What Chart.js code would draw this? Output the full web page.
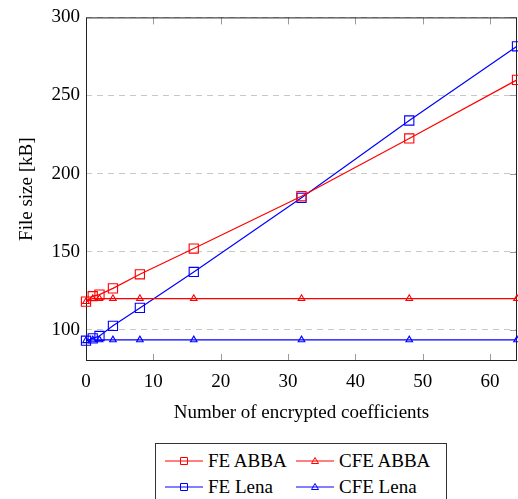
<!DOCTYPE html>
<html>
<head>
<meta charset="utf-8">
<script src="https://cdn.jsdelivr.net/npm/chart.js@4.4.1/dist/chart.umd.min.js"></script>
<style>
html, body { margin: 0; padding: 0; background: #fff; overflow: hidden; }
#wrap { position: relative; width: 518px; height: 499px; }
#chartBox { position: absolute; left: 0; top: 0; width: 518px; height: 430px; }
#legend { position: absolute; left: 155px; top: 443px; width: 290px; height: 70px; border: 1px solid #333;
  font-family: "Liberation Serif", serif; font-size: 19px; color: #000; }
.item { position: absolute; height: 24px; line-height: 24px; white-space: nowrap; }
.item canvas { position: absolute; left: 0; top: 6px; }
.item span { position: absolute; left: 43px; top: 0; }
</style>
</head>
<body>
<div id="wrap">
  <div id="chartBox"><canvas id="sizeChart"></canvas></div>
  <div id="legend"></div>
</div>
<script>
// data
const xValues = [0, 1, 2, 4, 8, 16, 32, 48, 64];
const feAbba  = [118, 121.5, 122.5, 126.5, 135.5, 152, 185.5, 222.5, 260];
const cfeAbba = [118, 120, 120, 120, 120, 120, 120, 120, 120];
const feLena  = [93, 94.5, 96, 102.5, 114, 137, 184.5, 234, 281.5];
const cfeLena = [93, 93.5, 93.5, 93.5, 93.5, 93.5, 93.5, 93.5, 93.5];
const xTicks = [0, 10, 20, 30, 40, 50, 60];
const yTicks = [100, 150, 200, 250, 300];

const RED = '#ff0000';
const BLUE = '#0000ff';
const FONT = '"Liberation Serif", "Times New Roman", serif';

const series = [
    { label: 'FE ABBA',  data: feAbba,  color: RED,  shape: 'rect' },
    { label: 'CFE ABBA', data: cfeAbba, color: RED,  shape: 'triangle' },
    { label: 'FE Lena',  data: feLena,  color: BLUE, shape: 'rect' },
    { label: 'CFE Lena', data: cfeLena, color: BLUE, shape: 'triangle' }
];

const toPoints = (ys) => xValues.map((x, i) => ({ x: x, y: ys[i] }));

// frame + inward tick marks like the pgfplots original
const framePlugin = {
    id: 'frame',
    beforeDatasetsDraw(chart) {
        const { ctx, chartArea: a, scales } = chart;
        ctx.save();
        ctx.strokeStyle = '#9a9a9a';
        ctx.lineWidth = 1;
        ctx.beginPath();
        xTicks.forEach(v => {
            if (v === 0) return;
            const px = Math.round(scales.x.getPixelForValue(v)) + 0.5;
            ctx.moveTo(px, a.bottom); ctx.lineTo(px, a.bottom - 7);
            ctx.moveTo(px, a.top); ctx.lineTo(px, a.top + 7);
        });
        yTicks.forEach(v => {
            const py = Math.round(scales.y.getPixelForValue(v)) + 0.5;
            ctx.moveTo(a.right, py); ctx.lineTo(a.right - 7, py);
        });
        ctx.stroke();
        ctx.strokeStyle = '#222';
        ctx.strokeRect(a.left + 0.5, a.top + 0.5, a.width - 1, a.height - 1);
        ctx.restore();
    }
};

const chart = new Chart(document.getElementById('sizeChart'), {
    type: 'line',
    data: {
        datasets: series.map(s => ({
            label: s.label,
            data: toPoints(s.data),
            borderColor: s.color,
            borderWidth: 1.2,
            pointStyle: s.shape,
            pointRadius: s.shape === 'rect' ? 6.5 : 3.8,
            pointBorderWidth: 1.1,
            pointBorderColor: s.color,
            pointBackgroundColor: 'rgba(255,255,255,0)',
            tension: 0,
            fill: false,
            clip: false
        }))
    },
    options: {
        responsive: true,
        maintainAspectRatio: false,
        animation: false,
        layout: { autoPadding: false, padding: { top: 15, right: 1, left: 0, bottom: 0 } },
        plugins: { legend: { display: false }, tooltip: { enabled: false } },
        scales: {
            x: {
                type: 'linear',
                min: 0,
                max: 64,
                afterBuildTicks: (scale) => { scale.ticks = xTicks.map(v => ({ value: v })); },
                afterFit: (scale) => { scale.height = 69; },
                grid: { display: false, drawTicks: false },
                border: { display: false },
                ticks: { color: '#000', padding: 10, font: { family: FONT, size: 19 }, maxRotation: 0 },
                title: { display: true, text: 'Number of encrypted coefficients', color: '#000',
                         font: { family: FONT, size: 19 }, padding: { top: 0, bottom: 6 } }
            },
            y: {
                min: 80,
                max: 300,
                afterBuildTicks: (scale) => { scale.ticks = yTicks.map(v => ({ value: v })); },
                afterFit: (scale) => { scale.width = 86; },
                grid: { color: '#c8c8c8', lineWidth: 1, drawTicks: false },
                border: { display: false, dash: [6, 5] },
                ticks: { color: '#000', padding: 6, font: { family: FONT, size: 19 } },
                title: { display: true, text: 'File size [kB]', color: '#000',
                         font: { family: FONT, size: 19 }, padding: { top: 16, bottom: 0 } }
            }
        }
    },
    plugins: [framePlugin]
});

// legend in a box, 2 x 2
function drawIcon(cv, color, shape) {
    const c = cv.getContext('2d');
    c.strokeStyle = color;
    c.lineWidth = 1.2;
    c.beginPath(); c.moveTo(0, 6); c.lineTo(38, 6); c.stroke();
    c.lineWidth = 1;
    c.beginPath();
    if (shape === 'rect') {
        c.rect(15.5, 2.5, 7, 7);
    } else {
        c.moveTo(19, 2.5); c.lineTo(22.5, 8.5); c.lineTo(15.5, 8.5); c.closePath();
    }
    c.stroke();
}

const legendPos = [[9, 5], [140, 5], [9, 31], [140, 31]];
const legendBox = document.getElementById('legend');
series.forEach((s, i) => {
    const item = document.createElement('div');
    item.className = 'item';
    item.style.left = legendPos[i][0] + 'px';
    item.style.top = legendPos[i][1] + 'px';
    const cv = document.createElement('canvas');
    cv.width = 38; cv.height = 12;
    drawIcon(cv, s.color, s.shape);
    const txt = document.createElement('span');
    txt.textContent = s.label;
    item.appendChild(cv);
    item.appendChild(txt);
    legendBox.appendChild(item);
});
</script>
</body>
</html>
